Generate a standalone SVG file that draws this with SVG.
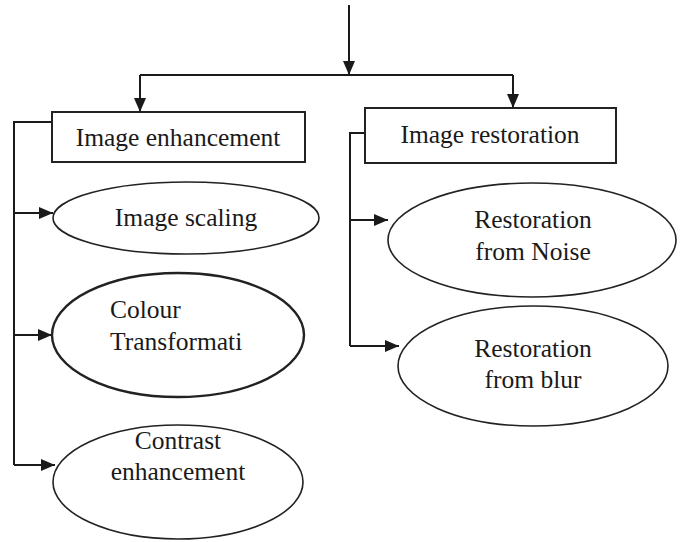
<svg xmlns="http://www.w3.org/2000/svg" width="683" height="542" viewBox="0 0 683 542">
  <defs>
    <marker id="arrow" viewBox="0 0 14 12" refX="14" refY="6" markerWidth="14" markerHeight="12" markerUnits="userSpaceOnUse" orient="auto">
      <path d="M0,0 L14,6 L0,12 Z" fill="#1a1a1a"/>
    </marker>
    <style>
      .box { fill: #fff; stroke: #222; stroke-width: 2; }
      .oval { fill: #fff; stroke: #222; stroke-width: 1.6; }
      .bold { stroke-width: 2.4; }
      .wire { fill: none; stroke: #1a1a1a; stroke-width: 2; }
      text { font-family: "Liberation Serif", "Times New Roman", serif; font-size: 25.5px; fill: #1a1a1a; }
      .c { text-anchor: middle; }
    </style>
  </defs>
  <rect width="683" height="542" fill="#fff"/>

  <g id="connectors">
    <path class="wire" d="M349,5 V75" marker-end="url(#arrow)"/>
    <path class="wire" d="M140,75 H513"/>
    <path class="wire" d="M140,75 V112" marker-end="url(#arrow)"/>
    <path class="wire" d="M513,75 V108" marker-end="url(#arrow)"/>
    <path class="wire" d="M52,122 H14 V465"/>
    <path class="wire" d="M14,213 H53" marker-end="url(#arrow)"/>
    <path class="wire" d="M14,335 H52" marker-end="url(#arrow)"/>
    <path class="wire" d="M14,465 H55" marker-end="url(#arrow)"/>
    <path class="wire" d="M365,133 H350 V346"/>
    <path class="wire" d="M350,220 H388" marker-end="url(#arrow)"/>
    <path class="wire" d="M350,346 H399" marker-end="url(#arrow)"/>
  </g>

  <g id="image-enhancement">
    <rect class="box" x="52" y="112" width="253" height="50"/>
    <text class="c" x="178" y="146">Image enhancement</text>
  </g>

  <g id="image-restoration">
    <rect class="box" x="365" y="108" width="251" height="55"/>
    <text class="c" x="490" y="143">Image restoration</text>
  </g>

  <g id="image-scaling">
    <ellipse class="oval" cx="186" cy="218" rx="133" ry="36"/>
    <text class="c" x="186" y="226">Image scaling</text>
  </g>

  <g id="colour-transformation">
    <ellipse class="oval bold" cx="178" cy="335" rx="126" ry="62"/>
    <text x="110" y="318">Colour</text>
    <text x="110" y="350">Transformati</text>
  </g>

  <g id="contrast-enhancement">
    <ellipse class="oval" cx="178" cy="482" rx="125" ry="57"/>
    <text class="c" x="178" y="449">Contrast</text>
    <text class="c" x="178" y="480">enhancement</text>
  </g>

  <g id="restoration-noise">
    <ellipse class="oval" cx="532" cy="240" rx="144" ry="57"/>
    <text class="c" x="533" y="228">Restoration</text>
    <text class="c" x="533" y="260">from Noise</text>
  </g>

  <g id="restoration-blur">
    <ellipse class="oval" cx="533" cy="366" rx="135" ry="60"/>
    <text class="c" x="533" y="357">Restoration</text>
    <text class="c" x="533" y="388">from blur</text>
  </g>
</svg>
